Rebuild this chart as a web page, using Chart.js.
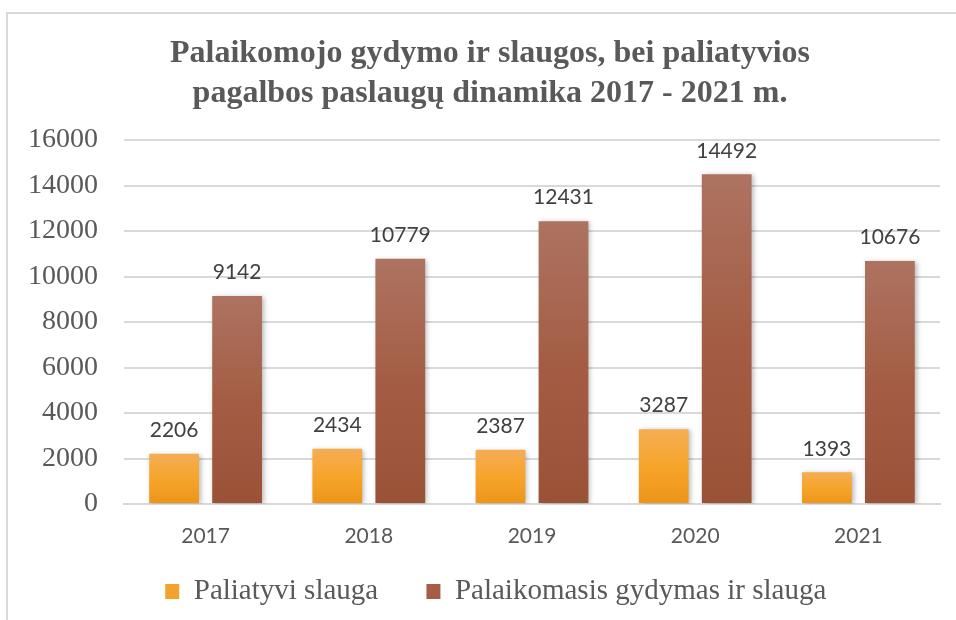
<!DOCTYPE html>
<html>
<head>
<meta charset="utf-8">
<script src="https://cdn.jsdelivr.net/npm/chart.js@4"></script>
<style>
  html, body { margin: 0; padding: 0; background: #fff; }
  #wrap { position: relative; width: 956px; height: 620px; }
  #frame { position: absolute; left: 6px; top: 12px; width: 960px; height: 620px;
           border-left: 2px solid #d9d9d9; border-top: 2px solid #d9d9d9; box-sizing: border-box; }
  canvas { position: absolute; left: 0; top: 0; }
</style>
</head>
<body>
<div id="wrap">
  <div id="frame"></div>
  <canvas id="myChart" width="956" height="620"></canvas>
</div>
<script>
// chart data
const years = ['2017', '2018', '2019', '2020', '2021'];
const paliatyvi = [2206, 2434, 2387, 3287, 1393];
const palaikomasis = [9142, 10779, 12431, 14492, 10676];
const yTicks = [0, 2000, 4000, 6000, 8000, 10000, 12000, 14000, 16000];

const NBSP = '\u00a0';

// vertical gradient per bar, lighter at the top
const barGradient = (top, mid, bottom, solid) => (context) => {
    const chart = context.chart;
    const yScale = chart.scales.y;
    if (!yScale || !chart.chartArea || context.raw == null) return solid;
    const yTop = yScale.getPixelForValue(context.raw);
    const yBase = yScale.getPixelForValue(0);
    if (!isFinite(yTop) || yTop === yBase) return solid;
    const g = chart.ctx.createLinearGradient(0, yTop, 0, yBase);
    g.addColorStop(0, top);
    g.addColorStop(0.5, mid);
    g.addColorStop(1, bottom);
    return g;
};

// soft shadow behind the bars
const barShadow = {
    id: 'barShadow',
    beforeDatasetsDraw(chart) {
        const ctx = chart.ctx;
        ctx.save();
        ctx.shadowColor = 'rgba(0, 0, 0, 0.28)';
        ctx.shadowBlur = 5;
        ctx.shadowOffsetX = 2;
        ctx.shadowOffsetY = 1;
    },
    afterDatasetsDraw(chart) {
        chart.ctx.restore();
    }
};

// value labels above bars
const valueLabels = {
    id: 'valueLabels',
    afterDraw(chart) {
        const ctx = chart.ctx;
        ctx.save();
        ctx.font = '21px Lato';
        ctx.fillStyle = '#404040';
        ctx.textAlign = 'center';
        ctx.textBaseline = 'bottom';
        chart.data.datasets.forEach((ds, i) => {
            const meta = chart.getDatasetMeta(i);
            meta.data.forEach((bar, j) => {
                ctx.fillText(String(ds.data[j]), bar.x, bar.y - 13);
            });
        });
        ctx.restore();
    }
};

const config = {
    type: 'bar',
    data: {
        labels: years,
        datasets: [
            {
                label: 'Paliatyvi slauga',
                data: paliatyvi,
                backgroundColor: barGradient('#f4ad55', '#f6a52a', '#ec9518', '#f3a22e'),
                borderWidth: 0
            },
            {
                label: 'Palaikomasis gydymas ir slauga',
                data: palaikomasis,
                backgroundColor: barGradient('#ad7361', '#a45d44', '#9a5237', '#a55e45'),
                borderWidth: 0
            }
        ]
    },
    options: {
        responsive: false,
        animation: false,
        categoryPercentage: 0.772,
        barPercentage: 0.79,
        layout: {
            padding: { top: 12, right: 16, bottom: 4, left: 0 }
        },
        plugins: {
            title: {
                display: true,
                // leading spaces nudge the centred title a bit to the right
                text: [NBSP.repeat(5) + 'Palaikomojo gydymo ir slaugos, bei paliatyvios',
                       NBSP.repeat(5) + 'pagalbos paslaugų dinamika 2017 - 2021 m.'],
                color: '#595959',
                font: { family: 'Liberation Serif', size: 32, weight: 'bold', lineHeight: 40 / 32 },
                padding: { top: 22, bottom: 26 }
            },
            legend: {
                position: 'bottom',
                fullSize: false,
                labels: {
                    color: '#595959',
                    font: { family: 'Liberation Serif', size: 29 },
                    boxWidth: 14,
                    boxHeight: 15,
                    padding: 12,
                    generateLabels(chart) {
                        const items = Chart.defaults.plugins.legend.labels.generateLabels(chart);
                        // extra room between the entries, and a trailing gap to pull the row left
                        items[0].text += NBSP.repeat(5);
                        items[1].text += NBSP.repeat(10);
                        items.forEach((it, i) => {
                            it.fillStyle = i === 0 ? '#f3a22e' : '#a55e45';
                            it.lineWidth = 0;
                        });
                        return items;
                    }
                }
            },
            tooltip: { enabled: false }
        },
        scales: {
            x: {
                afterFit(scale) { scale.height = 61; },
                grid: { display: false, drawTicks: false },
                border: { display: true, color: '#d9d9d9', width: 2 },
                ticks: {
                    color: '#595959',
                    font: { family: 'Lato', size: 21 },
                    padding: 20
                }
            },
            y: {
                min: 0,
                max: 16000,
                afterFit(scale) { scale.width = 124; },
                afterBuildTicks(scale) { scale.ticks = yTicks.map(v => ({ value: v })); },
                grid: { color: '#d9d9d9', lineWidth: 2, drawTicks: false },
                border: { display: false },
                ticks: {
                    color: '#595959',
                    font: { family: 'Liberation Serif', size: 28 },
                    padding: 26,
                    callback: (v) => String(v)
                }
            }
        }
    },
    plugins: [barShadow, valueLabels]
};

const myChart = new Chart(document.getElementById('myChart'), config);
</script>
</body>
</html>
